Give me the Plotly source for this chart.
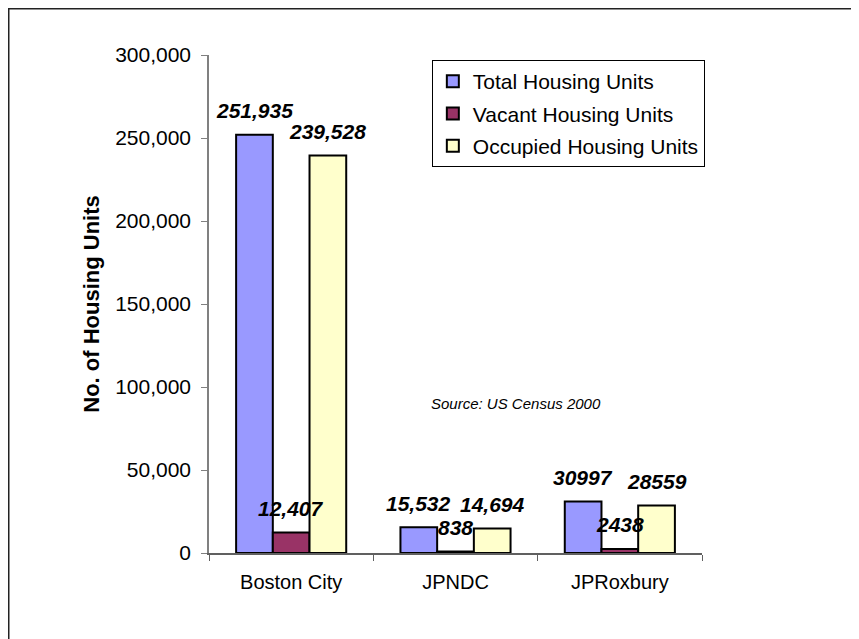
import plotly.graph_objects as go

categories = ["Boston City", "JPNDC", "JPRoxbury"]
total_units = [251935, 15532, 30997]
vacant_units = [12407, 838, 2438]
occupied_units = [239528, 14694, 28559]
total_labels = ["251,935", "15,532", "30997"]
vacant_labels = ["12,407", "838", "2438"]
occupied_labels = ["239,528", "14,694", "28559"]
series_names = ["Total Housing Units", "Vacant Housing Units", "Occupied Housing Units"]
y_ticks = [0, 50000, 100000, 150000, 200000, 250000, 300000]

FONT = "Liberation Sans, Arial, sans-serif"
colors = ["#9999FF", "#993366", "#FFFFCC"]
BARGAP = 0.33

series = [total_units, vacant_units, occupied_units]
labels = [total_labels, vacant_labels, occupied_labels]

ML, MR, MT, MB = 201, 165, 47, 94
PW, PH = 859 - ML - MR, 639 - MT - MB

fig = go.Figure()
for j, (name, vals) in enumerate(zip(series_names, series)):
    fig.add_trace(go.Bar(
        x=categories, y=vals, name=name, legendgroup=name,
        marker=dict(color=colors[j], line=dict(color="black", width=2)),
    ))

barw = (1 - BARGAP) / 3
annotations = []
for j in range(3):
    for i, cat in enumerate(categories):
        annotations.append(dict(
            x=i + (j - 1) * barw, y=series[j][i], xref="x", yref="y",
            text=labels[j][i], showarrow=False, yanchor="middle", yshift=24,
            font=dict(family=FONT, size=21, color="black", weight="bold", style="italic"),
        ))

annotations.append(dict(
    x=0.6237, y=0.301, xref="paper", yref="paper", text="Source: US Census 2000",
    showarrow=False, xanchor="center", yanchor="middle",
    font=dict(family=FONT, size=15, color="black", style="italic"),
))

fig.update_layout(
    width=859, height=639,
    margin=dict(l=ML, r=MR, t=MT, b=MB),
    paper_bgcolor="white", plot_bgcolor="white",
    barmode="group", bargap=BARGAP, bargroupgap=0,
    font=dict(family=FONT, color="black"),
    annotations=annotations,
    legend=dict(
        x=0.452, y=0.99, xanchor="left", yanchor="top",
        bgcolor="white", bordercolor="black", borderwidth=1,
        font=dict(family=FONT, size=21, color="black"),
        tracegroupgap=2,
    ),
    shapes=[dict(
        type="rect", xref="paper", yref="paper",
        x0=(0.5 - ML) / PW, x1=(900 - ML) / PW,
        y0=(MT + PH - 700) / PH, y1=(MT + PH - 0.5) / PH,
        line=dict(color="#222222", width=2), fillcolor="rgba(0,0,0,0)", layer="below",
    )],
)

fig.update_xaxes(
    type="category", tickson="boundaries", ticks="outside", ticklen=6,
    tickcolor="#606060", showline=True, linecolor="#606060", linewidth=1.5,
    tickfont=dict(family=FONT, size=20, color="black"), ticklabelstandoff=10,
    showgrid=False,
)
fig.update_yaxes(
    range=[0, 300000], tickvals=y_ticks, tickformat=",", ticks="outside", ticklen=6,
    tickcolor="#808080", showline=True, linecolor="#808080", linewidth=1.5,
    tickfont=dict(family=FONT, size=21, color="black"), ticklabelstandoff=6,
    showgrid=False, zeroline=False,
    title=dict(text="<b>No. of Housing Units</b>", font=dict(family=FONT, size=22, color="black"), standoff=9),
)

fig.write_html("out.html")
